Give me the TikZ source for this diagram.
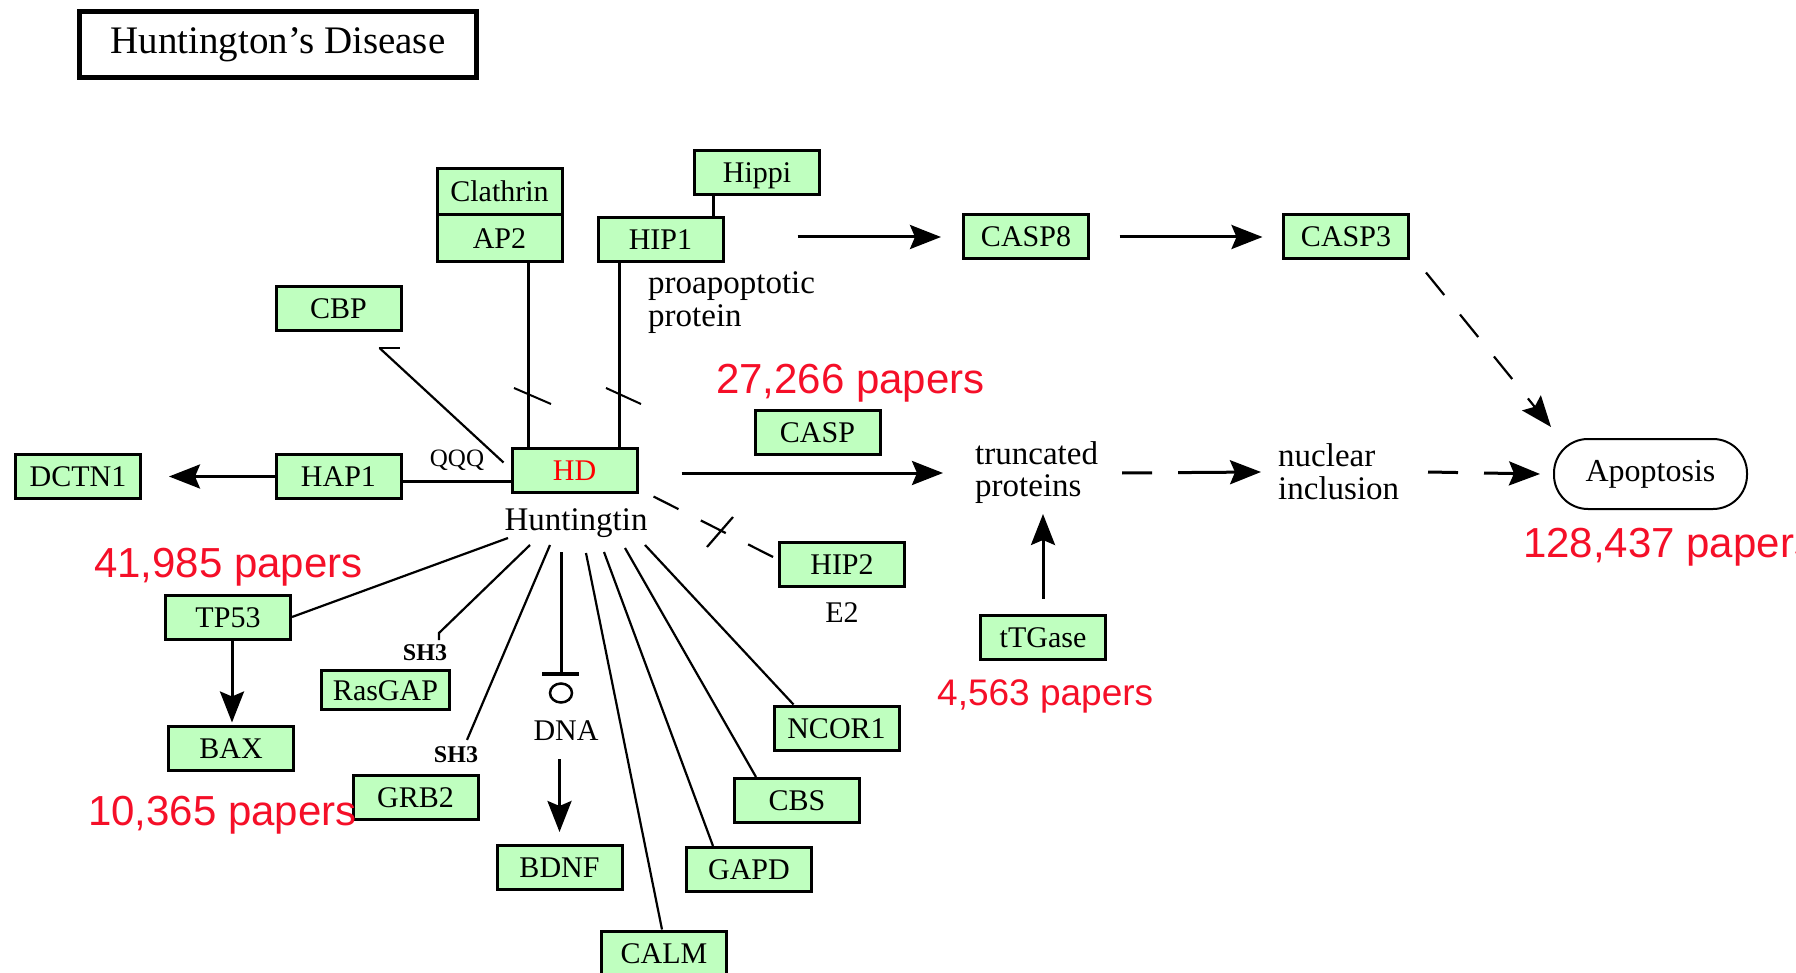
\documentclass[tikz,border=0pt]{standalone}
\usepackage{fontspec}
\setmainfont{Liberation Serif}
\newfontfamily\arialf{Liberation Sans}
\usetikzlibrary{arrows.meta,calc}
\definecolor{kgreen}{RGB}{191,255,191}
\definecolor{pred}{RGB}{245,15,40}
\begin{document}
\begin{tikzpicture}[x=1pt,y=-1pt,
  gene/.style={draw,line width=3pt,fill=kgreen,minimum width=125pt,minimum height=44pt,inner sep=0pt,text height=20pt,text depth=0pt,font=\fontsize{30}{30}\selectfont},
  lbl/.style={inner sep=0pt,font=\fontsize{33}{33}\selectfont,align=left},
  small/.style={inner sep=0pt,font=\bfseries\fontsize{24}{24}\selectfont},
  papers/.style={inner sep=0pt,anchor=base west,text=pred,font=\arialf\fontsize{42}{42}\selectfont},
  con/.style={line width=3pt},
  thinl/.style={line width=2.2pt},
  arr/.style={line width=3pt,-{Stealth[length=31pt,width=24pt,inset=5pt]}},
  ddash/.style={dash pattern=on 30pt off 26pt on 60pt off 26pt}
]
\useasboundingbox (0,0) rectangle (1796,973);
\fill[white] (0,0) rectangle (1796,973);

% title
\node[draw,line width=4.5pt,minimum width=397pt,minimum height=66pt,inner sep=0pt,font=\fontsize{39}{39}\selectfont] (title) at (278,44.5) {Huntington's Disease};

% named start points near Huntingtin
\coordinate (h-tp53) at (508,538);
\coordinate (h-ras) at (530,545);
\coordinate (h-grb) at (550,545);
\coordinate (h-dna) at (561,552);
\coordinate (h-calm) at (586,553);
\coordinate (h-gapd) at (604,552);
\coordinate (h-cbs) at (625,548);
\coordinate (h-ncor) at (645,545);

% boxes
\node[gene,minimum height=46pt] (clathrin) at (499.5,192) {Clathrin};
\node[gene,minimum height=47pt] (ap2) at (499.5,238.5) {AP2};
\node[gene] (hippi) at (757,173) {Hippi};
\node[gene] (hip1) at (660.5,239.5) {HIP1};
\node[gene] (cbp) at (338.5,308.5) {CBP};
\node[gene,text=red] (hd) at (574.5,470) {HD};
\node[gene] (hap1) at (338.5,476.5) {HAP1};
\node[gene] (dctn1) at (78,476.5) {DCTN1};
\node[gene] (tp53) at (228,617) {TP53};
\node[gene] (bax) at (231,748) {BAX};
\node[gene,minimum width=128pt,minimum height=39pt] (rasgap) at (385.5,690) {RasGAP};
\node[gene] (grb2) at (415.5,797.5) {GRB2};
\node[gene] (bdnf) at (559.5,867.5) {BDNF};
\node[gene] (calm) at (664,953) {CALM};
\node[gene] (gapd) at (749,869.5) {GAPD};
\node[gene] (cbs) at (797,800.5) {CBS};
\node[gene] (ncor1) at (836.5,728) {NCOR1};
\node[gene] (hip2) at (842,564.5) {HIP2};
\node[gene] (casp) at (817.5,432) {CASP};
\node[gene] (casp8) at (1026,237) {CASP8};
\node[gene] (casp3) at (1346,237) {CASP3};
\node[gene] (ttgase) at (1043,637) {tTGase};
\node[draw,line width=2pt,rounded corners=34pt,minimum width=193pt,minimum height=70pt,inner sep=0pt,font=\fontsize{32}{32}\selectfont] (apo) at (1650.5,474) {Apoptosis};

% text labels
\node[lbl,anchor=base] (htt) at (576,530) {Huntingtin};
\node[lbl,anchor=west] (proap) at (648,303) {proapoptotic\\[0pt]protein};
\node[lbl,anchor=west] (trunc) at (975,473) {truncated\\[-1pt]proteins};
\node[lbl,anchor=west] (nuc) at (1278,472) {nuclear\\inclusion};
\node[inner sep=0pt,font=\fontsize{30}{30}\selectfont,anchor=base] (e2) at (842,622) {E2};
\node[inner sep=0pt,font=\fontsize{30}{30}\selectfont,anchor=base] (dna) at (566,740) {DNA};
\node[small,anchor=base] (sh3a) at (425,660) {SH3};
\node[small,anchor=base] (sh3b) at (456,762) {SH3};
\node[inner sep=0pt,font=\fontsize{25}{25}\selectfont,anchor=base] (qqq) at (457,466) {QQQ};

% connectors
\draw[con] ([xshift=20pt]hippi.south west) -- ([xshift=20pt]hippi.south west |- hip1.north);
\draw[con] ([xshift=93pt]ap2.south west) -- ([xshift=93pt]ap2.south west |- hd.north);
\draw[thinl] ([xshift=23pt]hip1.south west) -- ([xshift=23pt]hip1.south west |- hd.north);
\draw[line width=2pt] (514,388) -- (551,404);
\draw[line width=2pt] (606,388) -- (641,404);

% CBP
\draw[line width=2pt] ($(cbp.south)+(40,16)$) -- ($(cbp.south)+(61,16)$);
\draw[thinl] ($(cbp.south)+(41,16)$) -- ($(hd.north west)+(-7,16)$);

% HAP1
\draw[con] ([yshift=-4.5pt]hap1.east) -- ([yshift=-4.5pt]hap1.east -| hd.west);
\draw[arr,shorten >=27pt] (hap1.west) -- (dctn1.east);

% TP53
\draw[arr,shorten >=2pt] ([xshift=4pt]tp53.south) -- ([xshift=4pt]tp53.south |- bax.north);
\draw[thinl] (tp53.east) -- (h-tp53);

% RasGAP / GRB2
\draw[thinl] (h-ras) -- (439,633) -- (439,640);
\draw[thinl] (h-grb) -- ($(sh3b.north)+(11,-6)$);

% DNA
\draw[con] (h-dna) -- (561,674);
\draw[line width=3.5pt] (542,674) -- (579,674);
\draw[line width=2.5pt] (561,693) ellipse (11 and 9.5);
\draw[arr,shorten <=19pt,shorten >=12pt] (bdnf.north |- dna.south) -- (bdnf.north);

% radiating lines
\draw[thinl] (h-calm) -- ([xshift=-2pt]calm.north);
\draw[thinl] (h-gapd) -- ([xshift=28pt]gapd.north west);
\draw[thinl] (h-cbs) -- ([xshift=23pt]cbs.north west);
\draw[thinl] (h-ncor) -- ([xshift=21pt]ncor1.north west);

% HIP2
\draw[thinl,dash pattern=on 28pt off 25pt] ($(hd.south east)+(15,3)$) -- ($(hip2.west)+(-2,-6)$);
\draw[thinl] (733,517) -- (707,547);

% apoptosis pathway
\draw[arr,shorten <=73pt,shorten >=21pt] (hip1.east |- casp8.west) -- (casp8.west);
\draw[arr,shorten <=29.5pt,shorten >=19.5pt] (casp8.east) -- (casp3.west);
\draw[arr,line width=2.2pt,dash pattern=on 29pt off 25pt] ($(casp3.south east)+(16,12)$) -- ($(apo.north west)+(-2,-11)$);
\draw[arr] ($(hd.east)+(43,3)$) -- ($(trunc.west)+(-32,0)$);
\draw[arr,ddash] ($(trunc.west)+(147,0)$) -- ($(nuc.west)+(-17,0)$);
\draw[arr,ddash] ($(nuc.west)+(150,0)$) -- ($(apo.west)+(-13,0)$);
\coordinate (tg-tip) at (1043,514);
\draw[arr] ([yshift=15pt]ttgase.north) -- (tg-tip);

% paper counts
\node[papers] (p1) at (716,393) {27,266 papers};
\node[papers] (p2) at (94,577) {41,985 papers};
\node[papers] (p3) at (88,825) {10,365 papers};
\node[papers,font=\arialf\fontsize{37}{37}\selectfont] (p4) at (937,705) {4,563 papers};
\node[papers] (p5) at (1523,557) {128,437 papers};
\end{tikzpicture}
\end{document}
